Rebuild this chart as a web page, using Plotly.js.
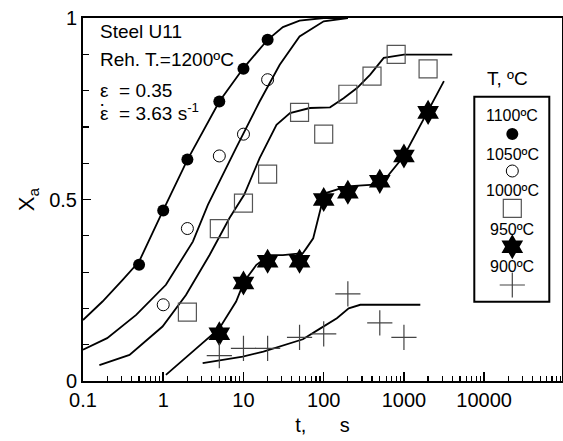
<!DOCTYPE html>
<html>
<head>
<meta charset="utf-8">
<script src="https://cdn.plot.ly/plotly-3.0.1.min.js"></script>
<style>html,body{margin:0;padding:0;background:#fff;}#chart{width:563px;height:441px;}</style>
</head>
<body>
<div id="chart"></div>
<script>
// ---- measured data points (time in s, fraction softened Xa) ----
var t1100 = [0.5, 1, 2, 5, 10, 20];
var x1100 = [0.32, 0.47, 0.61, 0.77, 0.86, 0.94];
var t1050 = [1, 2, 5, 10, 20];
var x1050 = [0.21, 0.42, 0.62, 0.68, 0.83];
var t1000 = [2, 5, 10, 20, 50, 100, 200, 400, 800, 2000];
var x1000 = [0.19, 0.42, 0.49, 0.57, 0.74, 0.68, 0.79, 0.84, 0.90, 0.86];
var t950 = [5, 10, 20, 50, 100, 200, 500, 1000, 2000];
var x950 = [0.13, 0.27, 0.33, 0.33, 0.50, 0.52, 0.55, 0.62, 0.74];
var t900 = [5, 10, 20, 50, 100, 200, 500, 1000];
var x900 = [0.07, 0.09, 0.09, 0.12, 0.13, 0.24, 0.16, 0.12];

// ---- model curves ----
var fit1100T = [0.1, 0.175, 0.31, 0.5, 1, 2, 5, 10, 20, 31, 50, 100, 200];
var fit1100X = [0.168, 0.219, 0.278, 0.329, 0.471, 0.609, 0.770, 0.862, 0.940, 0.975, 0.993, 1.0, 1.0];
var fit1050T = [0.1, 0.2, 0.46, 1.08, 2.34, 3.6, 8.1, 15.9, 28.3, 50, 100, 200];
var fit1050X = [0.086, 0.118, 0.182, 0.265, 0.384, 0.485, 0.642, 0.770, 0.871, 0.949, 0.991, 1.0];
var fit1000T = [0.16, 0.38, 0.98, 1.92, 3.78, 6.7, 10.2, 15.9, 25.8, 38, 67, 120, 177, 260, 380, 560, 1000, 4000];
var fit1000X = [0.044, 0.072, 0.150, 0.237, 0.347, 0.449, 0.513, 0.614, 0.706, 0.738, 0.752, 0.754, 0.779, 0.807, 0.844, 0.890, 0.899, 0.899];
var fit950T = [1.08, 2.34, 5, 8.1, 10.2, 14.5, 21.2, 31, 55, 61, 74, 94, 104, 194, 380, 620, 1000, 3150];
var fit950X = [0.017, 0.081, 0.145, 0.219, 0.274, 0.320, 0.347, 0.347, 0.352, 0.366, 0.393, 0.485, 0.517, 0.536, 0.540, 0.563, 0.620, 0.826];
var fit900T = [3.1, 6.8, 9.8, 17.7, 55, 91, 146, 205, 286, 1600];
var fit900X = [0.049, 0.062, 0.067, 0.081, 0.115, 0.145, 0.173, 0.200, 0.210, 0.210];

// ---- labels ----
var xTickVals = [0.1, 1, 10, 100, 1000, 10000];
var xTickText = ['0.1', '1', '10', '100', '1000', '10000'];
var yTickVals = [0, 0.5, 1];
var yTickText = ['0', '0.5', '1'];
var seriesNames = ['1100ºC', '1050ºC', '1000ºC', '950ºC', '900ºC'];

var FONT = 'Liberation Sans, Arial, Helvetica, sans-serif';
var W = 563, H = 441, ML = 83, MR = 1, MT = 18, MB = 60;
function px(x) { return (x - ML) / (W - ML - MR); }
function py(y) { return (H - MB - y) / (H - MT - MB); }

var symbols = [
  {symbol: 'circle', size: 12, color: '#000', line: {width: 0}},
  {symbol: 'circle-open', size: 12, color: '#000', line: {width: 1}},
  {symbol: 'square-open', size: 18, color: '#555', line: {width: 1.2}},
  {symbol: 'hexagram', size: 19, color: '#000', line: {width: 0}},
  {symbol: 'cross-thin', size: 18, color: '#444', line: {width: 1.2, color: '#444'}}
];

var traces = [];
var fits = [[fit1100T, fit1100X], [fit1050T, fit1050X], [fit1000T, fit1000X], [fit950T, fit950X], [fit900T, fit900X]];
fits.forEach(function (f) {
  traces.push({x: f[0], y: f[1], mode: 'lines', type: 'scatter', line: {color: '#000', width: 1.8, shape: 'linear'}, showlegend: false, hoverinfo: 'skip'});
});
var pts = [[t1100, x1100], [t1050, x1050], [t1000, x1000], [t950, x950], [t900, x900]];
pts.forEach(function (p, i) {
  traces.push({x: p[0], y: p[1], mode: 'markers', type: 'scatter', name: seriesNames[i], marker: symbols[i], showlegend: false, cliponaxis: false});
});

// hand-made legend (markers under labels) on an overlay axis in paper units
var legMarkY = [134, 171, 208.3, 246.7, 285];
var legTextY = [116, 154.3, 190.7, 229.3, 266.7];
var legX = 512.3;
symbols.forEach(function (s, i) {
  traces.push({x: [px(legX)], y: [py(legMarkY[i])], xaxis: 'x2', yaxis: 'y2', mode: 'markers', type: 'scatter', marker: s, showlegend: false, hoverinfo: 'skip', cliponaxis: false});
});

var annotations = [
  {text: 'Steel U11', x: px(98), y: py(32), xanchor: 'left', size: 19},
  {text: 'Reh. T.=1200ºC', x: px(98), y: py(59), xanchor: 'left', size: 19},
  {text: 'ε  = 0.35', x: px(98), y: py(90), xanchor: 'left', size: 19},
  {text: 'ε  = 3.63 s<sup>-1</sup>', x: px(98), y: py(112), xanchor: 'left', size: 19},
  {text: '·', x: px(101.5), y: py(103), xanchor: 'center', size: 19},
  {text: 'T, ºC', x: px(507), y: py(78), xanchor: 'center', size: 19}
].map(function (a) {
  return {text: a.text, x: a.x, y: a.y, xref: 'paper', yref: 'paper', xanchor: a.xanchor, yanchor: 'middle', showarrow: false, font: {family: FONT, size: a.size, color: '#000'}};
});
seriesNames.forEach(function (n, i) {
  annotations.push({text: n, x: px(legX), y: py(legTextY[i]), xref: 'paper', yref: 'paper', xanchor: 'center', yanchor: 'middle', showarrow: false, font: {family: FONT, size: 16, color: '#000'}});
});

var minorX = [];
for (var d = -1; d < 5; d++) for (var m = 2; m <= 9; m++) minorX.push(m * Math.pow(10, d));

var layout = {
  width: W, height: H,
  margin: {l: ML, r: MR, t: MT, b: MB, pad: 0},
  paper_bgcolor: '#fff', plot_bgcolor: '#fff',
  font: {family: FONT, size: 20, color: '#000'},
  showlegend: false,
  xaxis: {
    type: 'log', range: [-1, 4.97], tickmode: 'array', tickvals: xTickVals, ticktext: xTickText,
    ticks: 'inside', ticklen: 9, tickwidth: 1.5, tickcolor: '#000',
    minor: {tickmode: 'array', tickvals: minorX, ticks: 'inside', ticklen: 5, tickwidth: 1.2, tickcolor: '#000'},
    showline: true, linewidth: 2, linecolor: '#000', mirror: true, showgrid: false, zeroline: false,
    tickfont: {family: FONT, size: 20},
    title: {text: 't,\u00a0\u00a0\u00a0\u00a0\u00a0\u00a0s', font: {family: FONT, size: 20}, standoff: 8}
  },
  yaxis: {
    range: [0, 1], tickmode: 'array', tickvals: yTickVals, ticktext: yTickText,
    ticks: 'inside', ticklen: 8, tickwidth: 1.5, tickcolor: '#000',
    minor: {dtick: 0.1, ticks: 'inside', ticklen: 6, tickwidth: 1.2, tickcolor: '#000'},
    showline: true, linewidth: 2, linecolor: '#000', mirror: true, showgrid: false, zeroline: false,
    tickfont: {family: FONT, size: 20},
    title: {text: 'X<sub>a</sub>', font: {family: FONT, size: 22}, standoff: 8}
  },
  xaxis2: {overlaying: 'x', range: [0, 1], visible: false, fixedrange: true},
  yaxis2: {overlaying: 'y', range: [0, 1], visible: false, fixedrange: true},
  shapes: [
    {type: 'rect', xref: 'paper', yref: 'paper', x0: px(474.3), x1: px(549.3), y0: py(301.7), y1: py(96.7), line: {color: '#000', width: 2}, fillcolor: 'rgba(0,0,0,0)'}
  ],
  annotations: annotations
};

Plotly.newPlot('chart', traces, layout, {staticPlot: true, displayModeBar: false});
</script>
</body>
</html>
